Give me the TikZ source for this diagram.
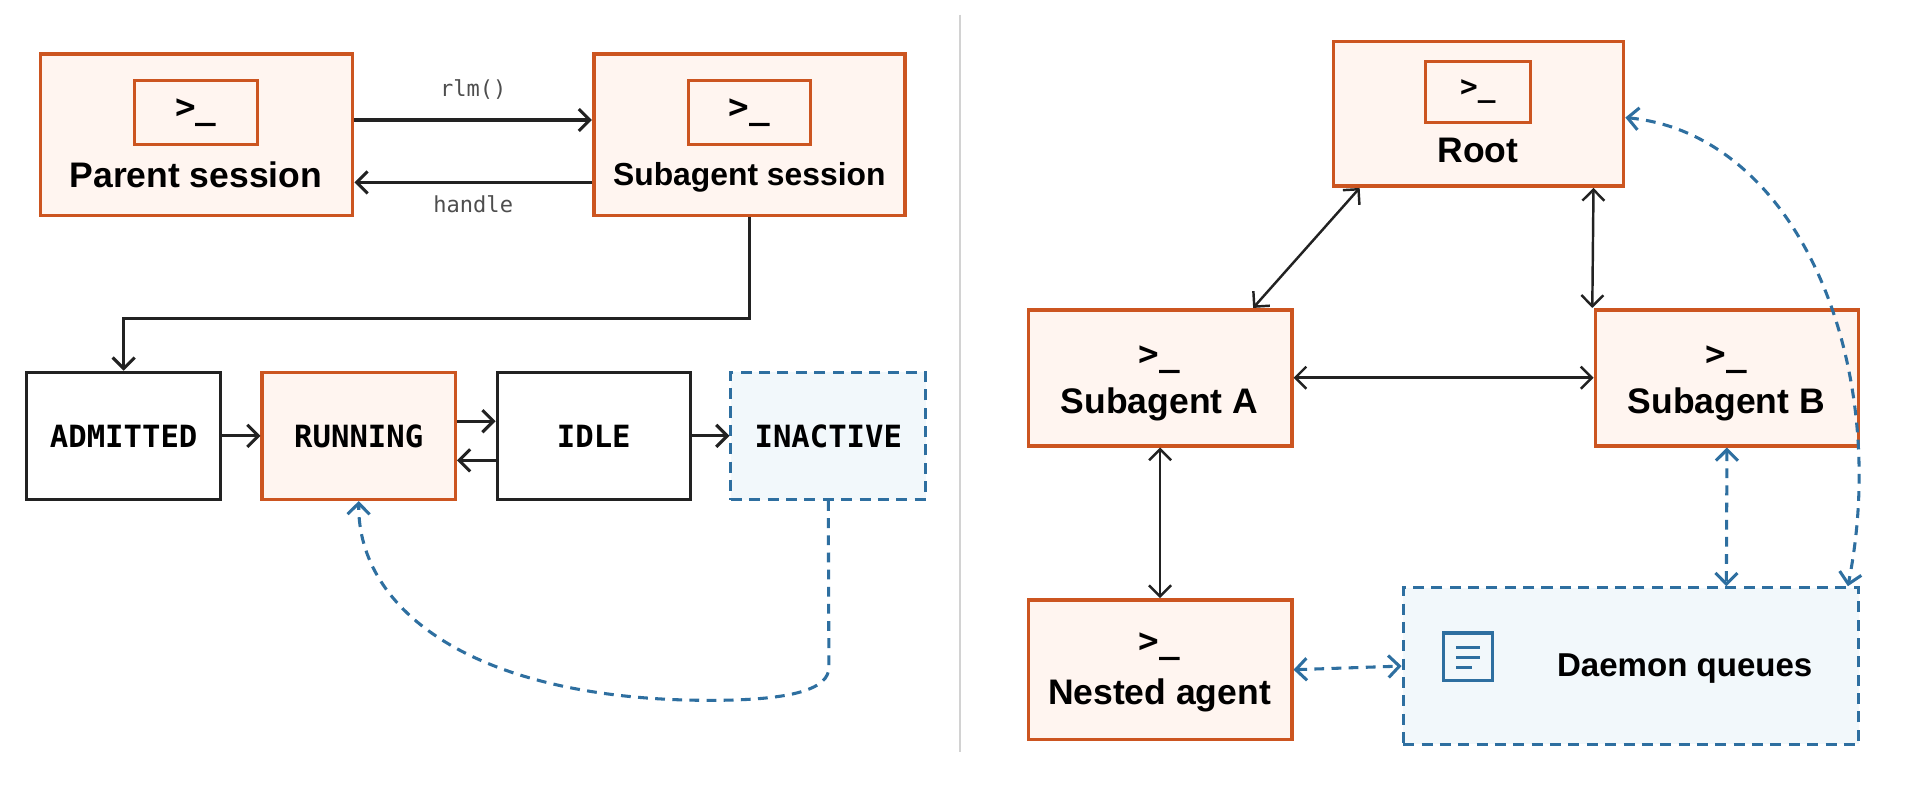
\documentclass[tikz,border=0pt]{standalone}
\usepackage{fontspec}
\setmainfont{Liberation Sans}
\newfontfamily\monof{DejaVu Sans Mono}
\usetikzlibrary{arrows.meta,calc}
\definecolor{org}{HTML}{CC5520}
\definecolor{orgfill}{HTML}{FFF5F0}
\definecolor{blu}{HTML}{2E6FA0}
\definecolor{blufill}{HTML}{F2F8FB}
\definecolor{ink}{HTML}{222222}
\tikzset{
  obox/.style={draw=org,fill=orgfill,line width=3pt,inner sep=0},
  kbox/.style={draw=ink,fill=white,line width=2.5pt,inner sep=0},
  bbox/.style={draw=blu,fill=blufill,line width=2.5pt,dash pattern=on 9pt off 6pt,inner sep=0},
  ico/.style={draw=org,fill=orgfill,line width=2.5pt,inner sep=0,minimum width=100pt,minimum height=52pt,font=\monof\bfseries\fontsize{28}{28}\selectfont},
  lbl/.style={font=\bfseries\fontsize{29}{30}\selectfont,text=black},
  st/.style={font=\monof\bfseries\fontsize{25}{26}\selectfont,text=black},
  prm/.style={font=\monof\bfseries\fontsize{28}{28}\selectfont},
  cl/.style={font=\monof\fontsize{18}{18}\selectfont,text=ink!80},
  ar/.style={draw=ink,line width=2.5pt,-{Straight Barb[length=9pt,width=18pt,line width=2.5pt]}},
  thin/.style={draw=ink,line width=2pt,{Straight Barb[length=9pt,width=18pt,line width=2pt]}-{Straight Barb[length=9pt,width=18pt,line width=2pt]}},
  bar/.style={draw=blu,line width=2.5pt,dash pattern=on 8pt off 6pt,{Straight Barb[length=9pt,width=18pt,line width=2.5pt]}-{Straight Barb[length=9pt,width=18pt,line width=2.5pt]}},
}
\begin{document}
\begin{tikzpicture}[x=1pt,y=-1pt]
\useasboundingbox (0,0) rectangle (1560,641);
\fill[white] (0,0) rectangle (1560,641);
\draw[gray!35,line width=1.5pt] (784,12) -- (784,614);
% left top
\node[obox,minimum width=255pt,minimum height=132pt] (par) at (160.5,110) {};
\node[ico] (pari) at (160,92) {>\_};
\node[lbl] (parl) at (160,143) {Parent session};
\node[obox,minimum width=254pt,minimum height=132pt] (sub) at (612,110) {};
\node[ico] (subi) at (612,92) {>\_};
\node[lbl,font=\bfseries\fontsize{26}{28}\selectfont] (subl) at (612,145) {Subagent session};
\draw[ar] ($(par.east)+(0,-12)$) -- ($(sub.west)+(0,-12)$) node[cl,midway,above=12pt] (rlm) {rlm()};
\draw[ar] ($(sub.west)+(0,39)$) -- ($(par.east)+(0,39)$) node[cl,midway,below=6pt] (hdl) {handle};
% states
\node[kbox,minimum width=158pt,minimum height=104pt,st] (adm) at (101,356) {ADMITTED};
\node[obox,line width=2.5pt,minimum width=158pt,minimum height=104pt,st] (run) at (293,356) {RUNNING};
\node[kbox,minimum width=158pt,minimum height=104pt,st] (idle) at (485,356) {IDLE};
\node[bbox,minimum width=159pt,minimum height=104pt,st] (ina) at (676.5,356) {INACTIVE};
\draw[ar] (sub.south) |- (350,260) -| (adm.north);
\draw[ar] (adm.east) -- (run.west);
\draw[ar] ($(run.east)+(0,-12)$) -- ($(idle.west)+(0,-12)$);
\draw[ar] ($(idle.west)+(0,20)$) -- ($(run.east)+(0,20)$);
\draw[ar] (idle.east) -- (ina.west);
\draw[draw=blu,line width=2.5pt,dash pattern=on 8pt off 6pt,-{Straight Barb[length=9pt,width=18pt,line width=2.5pt]}]
  (ina.south) -- (677,545) .. controls (677,562) and (650,572) .. (580,572)
  .. controls (390,572) and (292,500) .. (run.south);
% right
\node[obox,minimum width=237pt,minimum height=118pt] (root) at (1207.5,93) {};
\node[ico,minimum width=86pt,minimum height=50pt,font=\monof\bfseries\fontsize{24}{24}\selectfont] (rooti) at (1207,75) {>\_};
\node[lbl] (rootl) at (1207,123) {Root};
\node[obox,minimum width=215pt,minimum height=111pt] (sa) at (947.5,308.5) {};
\node[prm] (sap) at (947,294) {>\_};
\node[lbl] (sal) at (947,330) {Subagent A};
\node[obox,minimum width=215pt,minimum height=111pt] (sb) at (1410.5,308.5) {};
\node[prm] (sbp) at (1410,294) {>\_};
\node[lbl] (sbl) at (1410,330) {Subagent B};
\node[obox,minimum width=215pt,minimum height=114pt] (na) at (947.5,547) {};
\node[prm] (nap) at (947,528) {>\_};
\node[lbl] (nal) at (947,568) {Nested agent};
\node[bbox,minimum width=372pt,minimum height=128pt] (dq) at (1332,544) {};
\draw[blu,line width=2.5pt] (1179,517) rectangle (1219,556);
\draw[blu,line width=2.5pt] (1189,529) -- (1209,529) (1189,537) -- (1209,537) (1189,545) -- (1202,545);
\node[lbl,font=\bfseries\fontsize{27}{28}\selectfont] (dql) at (1376,546) {Daemon queues};
\draw[thin] ($(root.south west)+(23,0)$) -- ($(sa.north east)+(-33,0)$);
\draw[thin] ($(root.south east)+(-26,0)$) -- ($(sb.north west)+(-1,0)$);
\draw[thin,line width=2.5pt] (sa.east) -- (sb.west);
\draw[thin] (sa.south) -- (na.north);
\draw[bar] (sb.south) -- ($(dq.north)+(78,0)$);
\draw[bar] (na.east) -- (dq.west);
\draw[bar] ($(root.east)+(0,3)$) .. controls (1470,110) and (1545,300) .. ($(dq.north east)+(-10,0)$);
\end{tikzpicture}
\end{document}
